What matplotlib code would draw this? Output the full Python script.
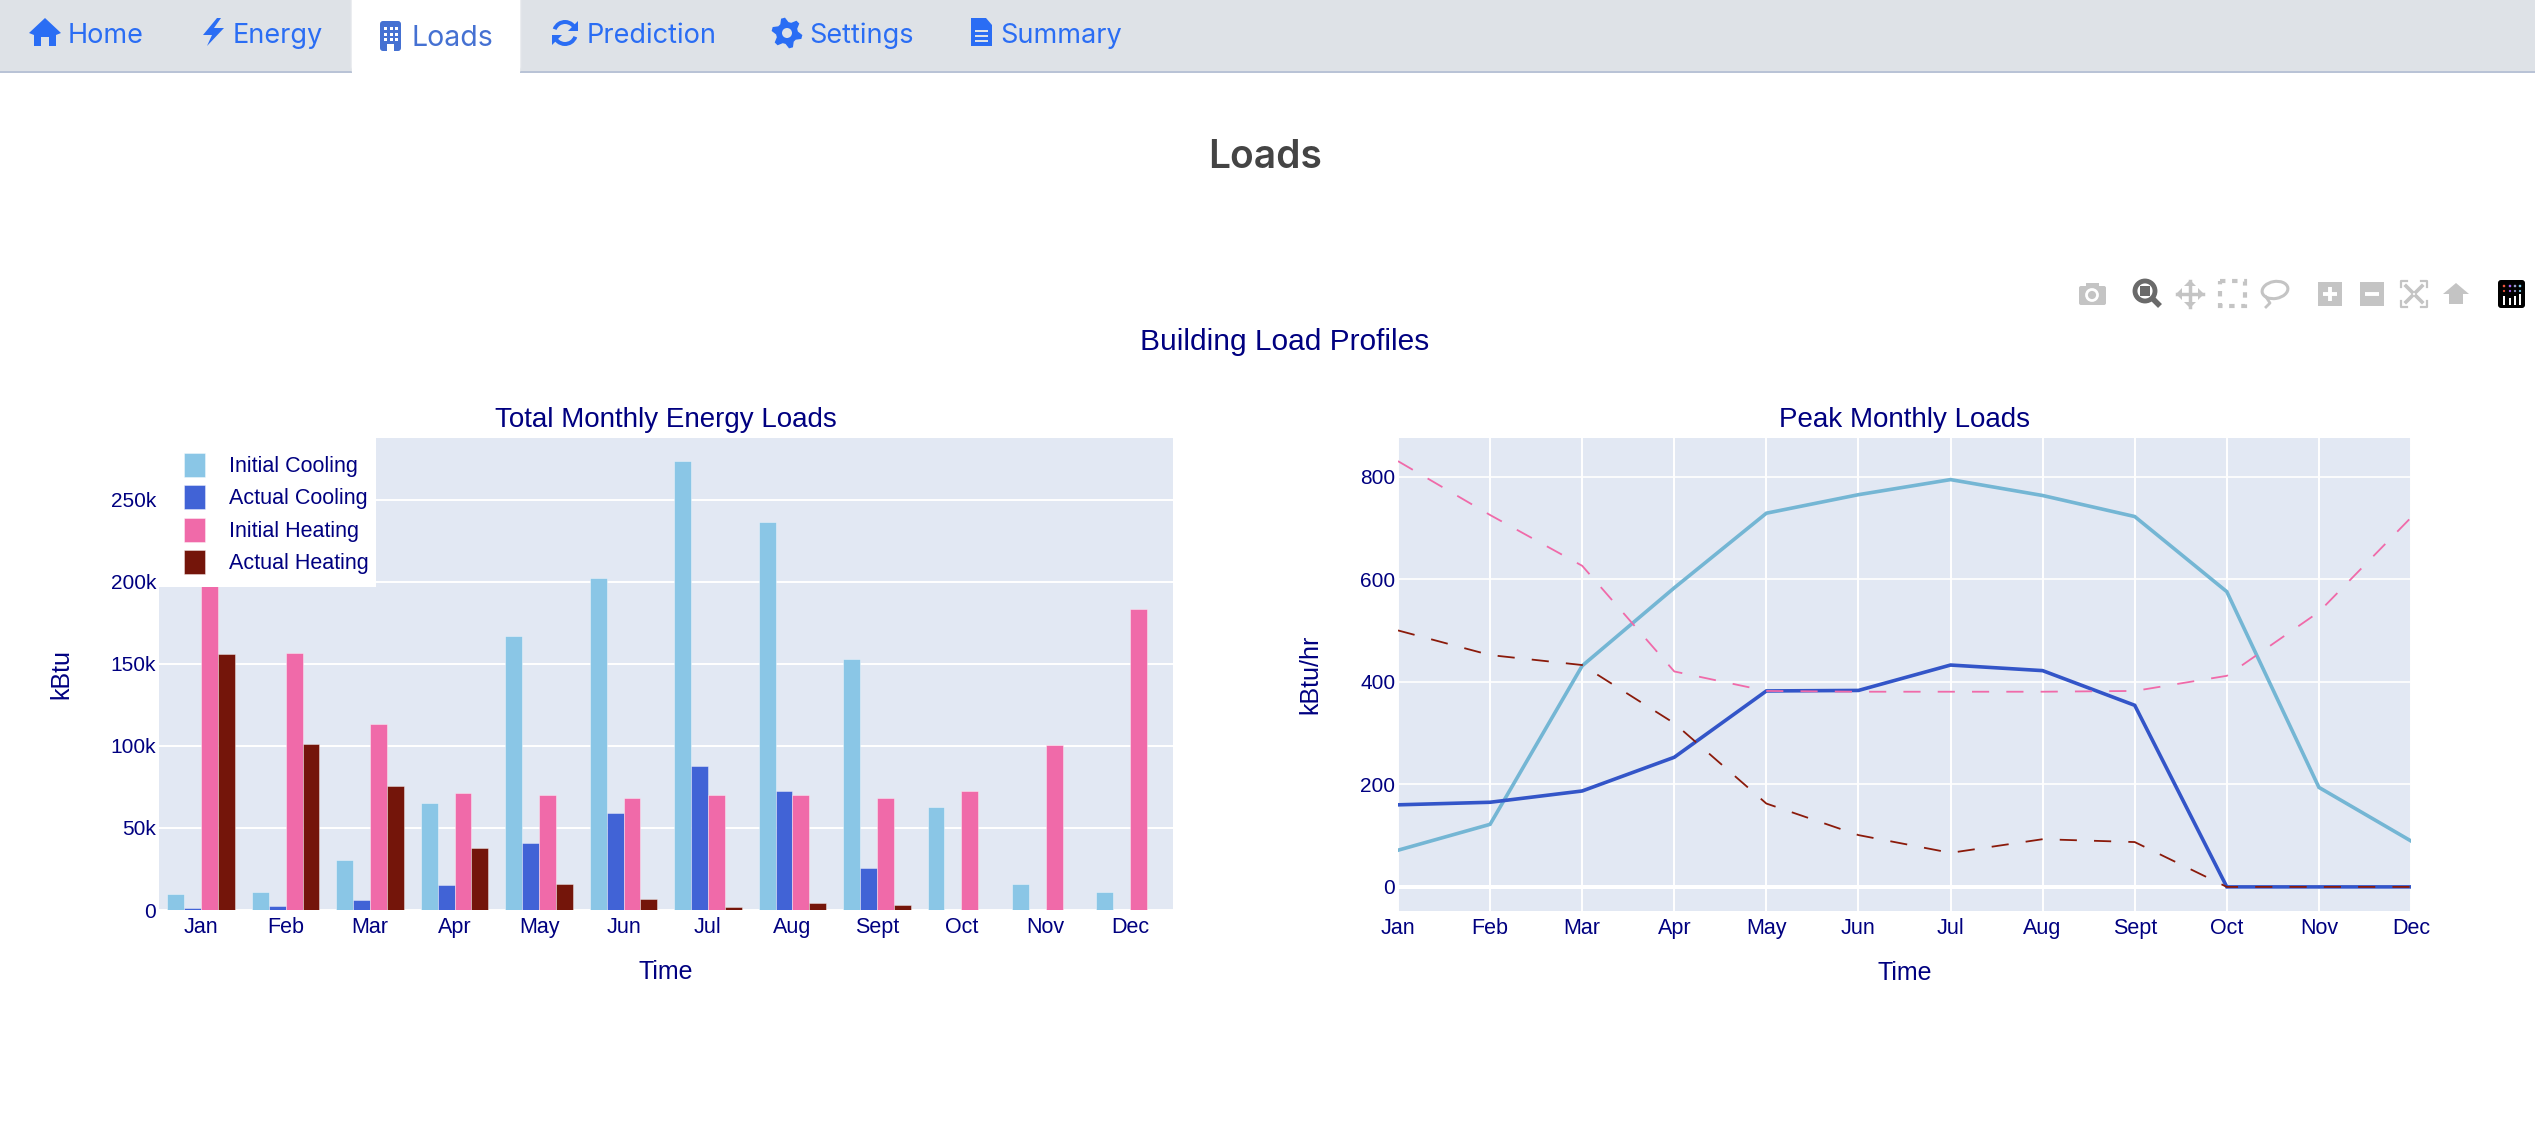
import matplotlib
matplotlib.use("Agg")
import matplotlib.pyplot as plt
import numpy as np
from matplotlib.patches import Rectangle, Polygon, Circle, FancyBboxPatch, Wedge, Ellipse

W, H = 2535, 1143
months = ["Jan", "Feb", "Mar", "Apr", "May", "Jun", "Jul", "Aug", "Sept", "Oct", "Nov", "Dec"]

initial_cooling_total = [9800, 11000, 30500, 65000, 166800, 202500, 273500, 236500, 153300, 62600, 16000, 10700]
actual_cooling_total = [1500, 2300, 6000, 15000, 41000, 59000, 88000, 72700, 25900, 0, 0, 0]
initial_heating_total = [215000, 156500, 113500, 71300, 70400, 68000, 70400, 70400, 68000, 72500, 100500, 183600]
actual_heating_total = [156000, 101000, 75700, 37700, 15600, 7000, 1900, 4200, 2800, 0, 0, 0]

initial_cooling_peak = [71.5, 122, 431, 583, 728.5, 764.6, 794, 763, 722, 575.5, 194, 89.5]
actual_cooling_peak = [160, 165, 187, 252.7, 382, 383, 432.5, 421.6, 354, 0, 0, 0]
initial_heating_peak = [830, 725, 626, 420, 382, 380.5, 380.5, 380.5, 382, 411.5, 536, 720]
actual_heating_peak = [500, 452, 432.5, 319, 162.5, 101, 66.4, 93, 87.4, 0, 0, 0]

series_names = ["Initial Cooling", "Actual Cooling", "Initial Heating", "Actual Heating"]
left_ticks = [0, 50000, 100000, 150000, 200000, 250000]
left_tick_labels = ["0", "50k", "100k", "150k", "200k", "250k"]
right_ticks = [0, 200, 400, 600, 800]

tab_names = ["Home", "Energy", "Loads", "Prediction", "Settings", "Summary"]

FONT = ["Liberation Sans", "DejaVu Sans"]
plt.rcParams["font.family"] = FONT
NAVY = "#000080"
BG = "#e2e8f3"
BAR_COL = ["#8ac6e6", "#4163d6", "#f06aa9", "#74150a"]
LINE_COL = ["#74b6d4", "#3355c8", "#f06aa9", "#8b1a0a"]

fig = plt.figure(figsize=(W / 100, H / 100), dpi=100, facecolor="white")


def axes_px(x0, y0, x1, y1, **kw):
    return fig.add_axes([x0 / W, 1 - y1 / H, (x1 - x0) / W, (y1 - y0) / H], **kw)


# page chrome in pixel coordinates
pg = fig.add_axes([0, 0, 1, 1], zorder=0)
pg.set_xlim(0, W)
pg.set_ylim(H, 0)
pg.axis("off")

pg.add_patch(Rectangle((0, 0), W, 71, fc="#dee2e7", ec="none"))
pg.add_patch(Rectangle((0, 70.5), W, 2, fc="#b9c3d6", ec="none"))
pg.add_patch(FancyBboxPatch((351, -10), 170, 83, boxstyle="round,pad=0,rounding_size=6", fc="white", ec="#e3e6ea", lw=1))
pg.add_patch(Rectangle((352, 68), 168, 6, fc="white", ec="none"))

TAB = "#2a6df4"
ACT = "#4571d2"
tab_x = [68, 233, 411, 587, 809, 1000]
for name, x in zip(tab_names, tab_x):
    active = name == "Loads"
    pg.text(x, 38 if active else 36, name, family=["Inter", "DejaVu Sans"], fontsize=20.5 if active else 19.5, color=ACT if active else TAB, ha="left", va="center")

# home
pg.add_patch(Polygon([(29, 33), (45, 18), (61, 33), (56, 35), (56, 46), (49, 46), (49, 37), (41, 37), (41, 46), (34, 46), (34, 35)], fc=TAB, ec="none"))
# bolt
pg.add_patch(Polygon([(217, 18), (203, 35), (212, 35), (207, 46), (224, 28), (214, 28), (221, 18)], fc=TAB, ec="none"))
# building
pg.add_patch(FancyBboxPatch((380, 21), 21, 30, boxstyle="round,pad=0,rounding_size=3", fc=ACT, ec="none"))
for yy in (27, 33, 38):
    for xx in (384, 389.5, 395):
        pg.add_patch(Rectangle((xx, yy), 3, 3, fc="white", ec="none"))
pg.add_patch(Rectangle((387, 44), 7, 7, fc="white", ec="none"))
# refresh
pg.add_patch(Wedge((565, 33), 13, 200, 345, width=4, fc=TAB, ec="none"))
pg.add_patch(Wedge((565, 33), 13, 20, 165, width=4, fc=TAB, ec="none"))
pg.add_patch(Polygon([(578, 21), (578, 31), (568, 31)], fc=TAB, ec="none"))
pg.add_patch(Polygon([(552, 45), (552, 35), (562, 35)], fc=TAB, ec="none"))
# gear
gear_a = np.deg2rad(np.arange(0, 360, 15) + 7.5)
gear_r = np.array([15.5, 15.5, 11, 11] * 6)
pg.add_patch(Polygon(np.c_[787 + gear_r * np.cos(gear_a), 33 + gear_r * np.sin(gear_a)], fc=TAB, ec="none"))
pg.add_patch(Circle((787, 33), 5, fc="#dee2e7", ec="none"))
# document
pg.add_patch(Polygon([(971, 18), (986, 18), (992, 25), (992, 46), (971, 46)], fc=TAB, ec="none"))
for yy in (31, 36, 41):
    pg.add_patch(Rectangle((975, yy - 1), 13, 1.8, fc="#dee2e7", ec="none"))

pg.text(1265, 157, "Loads", family=["Inter", "DejaVu Sans"], fontsize=28, fontweight="semibold", color="#444444", ha="center", va="center")
pg.text(1285, 342, "Building Load Profiles", fontsize=21.5, color=NAVY, ha="center", va="center")

# modebar icons
G = "#c4c4c4"
D = "#6a6a6a"
pg.add_patch(FancyBboxPatch((2079, 286), 27, 19, boxstyle="round,pad=0,rounding_size=2", fc=G, ec="none"))
pg.add_patch(Rectangle((2086, 283), 13, 4, fc=G, ec="none"))
pg.add_patch(Circle((2092, 295), 5.5, fc=G, ec="white", lw=2))
pg.add_patch(Circle((2145, 291), 10, fc="none", ec=D, lw=3.5))
pg.add_patch(Rectangle((2140, 286), 10, 10, fc=D, ec="none"))
pg.plot([2152, 2160], [298, 306], color=D, lw=4, solid_capstyle="butt")
pg.plot([2177, 2203], [294, 294], color=G, lw=2.5)
pg.plot([2190, 2190], [281, 307], color=G, lw=2.5)
for a, b, c in [((2176, 294), (2182, 288), (2182, 300)), ((2204, 294), (2198, 288), (2198, 300)),
                ((2190, 280), (2184, 286), (2196, 286)), ((2190, 308), (2184, 302), (2196, 302))]:
    pg.add_patch(Polygon([a, b, c], fc=G, ec="none"))
pg.add_patch(Rectangle((2219.5, 281), 25, 25, fc="none", ec=G, lw=3, ls=(0, (1.3, 1.6))))
pg.add_patch(Ellipse((2275, 290), 26, 17, angle=-10, fc="none", ec=G, lw=2.2))
pg.plot([2266, 2270, 2266], [297, 303, 307], color=G, lw=2)
pg.add_patch(Rectangle((2318, 282), 24, 24, fc=G, ec="none"))
pg.plot([2323, 2337], [294, 294], color="white", lw=2.8, solid_capstyle="butt")
pg.plot([2330, 2330], [287, 301], color="white", lw=2.8, solid_capstyle="butt")
pg.add_patch(Rectangle((2360, 282), 24, 24, fc=G, ec="none"))
pg.plot([2365, 2379], [294, 294], color="white", lw=2.8, solid_capstyle="butt")
for sx, sy in [(-1, -1), (1, -1), (-1, 1), (1, 1)]:
    cx, cy = 2414 + sx * 13, 294 + sy * 13
    pg.plot([cx - sx * 6, cx, cx], [cy, cy, cy - sy * 6], color=G, lw=1.6)
    pg.plot([2414 + sx * 2, 2414 + sx * 8], [294 + sy * 2, 294 + sy * 8], color=G, lw=2.6)
pg.add_patch(Polygon([(2443, 294), (2456, 283), (2469, 294), (2463, 294), (2463, 304), (2449, 304), (2449, 294)], fc=G, ec="none"))
pg.add_patch(FancyBboxPatch((2498, 280), 27, 28, boxstyle="round,pad=0,rounding_size=3", fc="black", ec="none"))
for xx, cc, top in [(2504, "#ef553b", 296), (2510, "#ab63fa", 298), (2515, "#9aa0d0", 296), (2520, "#7fd0f0", 294)]:
    pg.add_patch(Rectangle((xx - 1, top), 2.2, 306 - top - 1, fc="white", ec="none"))
    pg.add_patch(Circle((xx, 286), 1.3, fc=cc, ec="none"))
    pg.add_patch(Circle((xx, 291), 1.1, fc=cc, ec="none"))

# left chart: bars
ax1 = axes_px(159, 438, 1172.5, 910, zorder=1, facecolor=BG)
x = np.arange(len(months))
totals = [initial_cooling_total, actual_cooling_total, initial_heating_total, actual_heating_total]
bars = []
for i, vals in enumerate(totals):
    bars.append(ax1.bar(x + (i - 1.5) * 0.2, vals, 0.2, color=BAR_COL[i], edgecolor=(1, 1, 1, 0.4), linewidth=0.7, label=series_names[i], zorder=3))
ax1.set_xlim(-0.5, 11.5)
ax1.set_ylim(0, 287800)
ax1.set_xticks(x, months)
ax1.set_yticks(left_ticks, left_tick_labels)
ax1.yaxis.grid(True, color="white", lw=1.4, zorder=1)
ax1.set_axisbelow(True)
ax1.set_title("Total Monthly Energy Loads", fontsize=20, color=NAVY, y=1, pad=8)
ax1.set_xlabel("Time", fontsize=18, color=NAVY, labelpad=16)
ax1.set_ylabel("kBtu", fontsize=18, color=NAVY, labelpad=27)
ax1.tick_params(axis="x", length=0, pad=5, labelsize=15.5, labelcolor=NAVY)
ax1.tick_params(axis="y", length=0, pad=2, labelsize=15, labelcolor=NAVY)
for s in ax1.spines.values():
    s.set_visible(False)
ax1.add_patch(Rectangle((0, 1 - 0.3167), 0.214, 0.3167, transform=ax1.transAxes, fc="white", ec="none", zorder=5))
ax1.legend(handles=bars, loc="upper left", bbox_to_anchor=(0.0242, 0.969), frameon=False, fontsize=15.5,
           labelcolor=NAVY, borderpad=0, borderaxespad=0, handlelength=0.98, handleheight=1.33,
           handletextpad=1.13, labelspacing=0.39).set_zorder(6)

# right chart: lines
ax2 = axes_px(1398, 437.8, 2411, 910.6, zorder=1, facecolor=BG)
ax2.xaxis.grid(True, color="white", lw=1.4, zorder=1)
ax2.yaxis.grid(True, color="white", lw=1.2, zorder=1)
ax2.set_axisbelow(True)
ax2.axhline(0, color="white", lw=2.9, zorder=1.5)
ax2.plot(x, initial_cooling_peak, color=LINE_COL[0], lw=2.6, zorder=3, solid_joinstyle="miter")
ax2.plot(x, actual_cooling_peak, color=LINE_COL[1], lw=2.6, zorder=3, solid_joinstyle="miter")
ax2.plot(x, initial_heating_peak, color=LINE_COL[2], lw=1.3, ls=(0, (9.5, 9.5)), zorder=3)
ax2.plot(x, actual_heating_peak, color=LINE_COL[3], lw=1.3, ls=(0, (9.5, 9.5)), zorder=3)
ax2.set_xlim(0, 11)
ax2.set_ylim(-46.2, 875.5)
ax2.set_xticks(x, months)
ax2.set_yticks(right_ticks)
ax2.set_title("Peak Monthly Loads", fontsize=20, color=NAVY, y=1, pad=8)
ax2.set_xlabel("Time", fontsize=18, color=NAVY, labelpad=16)
ax2.set_ylabel("kBtu/hr", fontsize=18, color=NAVY, labelpad=27)
ax2.tick_params(axis="x", length=0, pad=5, labelsize=15.5, labelcolor=NAVY)
ax2.tick_params(axis="y", length=0, pad=2, labelsize=15, labelcolor=NAVY)
for s in ax2.spines.values():
    s.set_visible(False)

fig.savefig("out.png", dpi=100)
